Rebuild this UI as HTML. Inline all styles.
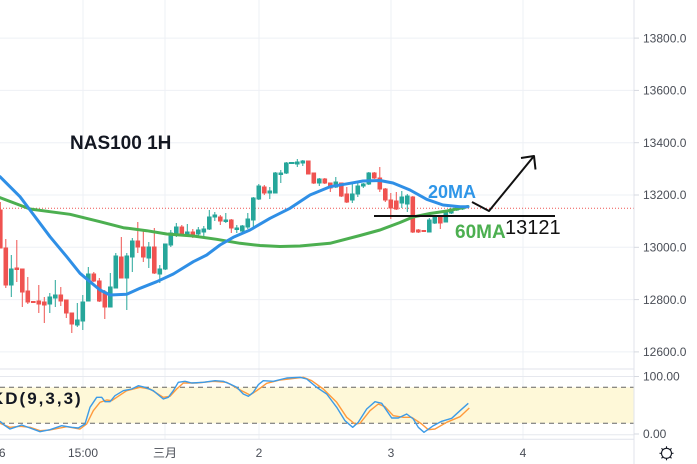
<!DOCTYPE html>
<html><head><meta charset="utf-8"><style>
html,body{margin:0;padding:0;background:#fff;}
svg{display:block;}
text{font-family:"Liberation Sans","Noto Sans CJK SC",sans-serif;}
</style></head><body>
<svg width="697" height="464" viewBox="0 0 697 464" xmlns="http://www.w3.org/2000/svg">
<rect width="697" height="464" fill="#fff"/>
<!-- grid -->
<g stroke="#eef0f5" stroke-width="1">
<line x1="0" y1="38.1" x2="634" y2="38.1"/>
<line x1="0" y1="90.4" x2="634" y2="90.4"/>
<line x1="0" y1="142.7" x2="634" y2="142.7"/>
<line x1="0" y1="195" x2="634" y2="195"/>
<line x1="0" y1="247.3" x2="634" y2="247.3"/>
<line x1="0" y1="299.6" x2="634" y2="299.6"/>
<line x1="0" y1="351.9" x2="634" y2="351.9"/>
<line x1="83" y1="0" x2="83" y2="439"/>
<line x1="165" y1="0" x2="165" y2="439"/>
<line x1="259" y1="0" x2="259" y2="439"/>
<line x1="391" y1="0" x2="391" y2="439"/>
<line x1="523" y1="0" x2="523" y2="439"/>
</g>
<!-- KD pane -->
<rect x="0" y="387.3" width="634" height="36" fill="#fef8d8"/>
<g stroke="#e6e8ee" stroke-width="1">
<line x1="0" y1="376.5" x2="634" y2="376.5"/>
<line x1="0" y1="434.7" x2="634" y2="434.7"/>
</g>
<line x1="0" y1="369" x2="697" y2="369" stroke="#e0e3eb" stroke-width="1"/>
<line x1="0" y1="439.3" x2="697" y2="439.3" stroke="#e0e3eb" stroke-width="1"/>
<g stroke="#666" stroke-width="1" stroke-dasharray="5 4">
<line x1="0" y1="387.3" x2="634" y2="387.3"/>
<line x1="0" y1="423.3" x2="634" y2="423.3"/>
</g>
<!-- price dotted line -->
<line x1="0" y1="208.3" x2="634" y2="208.3" stroke="#ef5350" stroke-width="1" stroke-dasharray="1 2"/>
<!-- candles -->
<g stroke="#ef5350" stroke-width="1" fill="#ef5350">
<line x1="0.3" y1="202" x2="0.3" y2="248"/><rect x="-1.5" y="210" width="3.6" height="38"/>
<line x1="5.8" y1="239" x2="5.8" y2="288"/><rect x="4" y="248" width="3.6" height="37"/>
<line x1="16.8" y1="240" x2="16.8" y2="282"/><rect x="15" y="268" width="3.6" height="1.5"/>
<line x1="22.3" y1="269" x2="22.3" y2="307"/><rect x="20.5" y="269" width="3.6" height="23"/>
<line x1="27.8" y1="277" x2="27.8" y2="304"/><rect x="26" y="291" width="3.6" height="11"/>
<rect x="31.5" y="301.5" width="3.6" height="1"/>
<line x1="38.8" y1="285" x2="38.8" y2="313"/><rect x="37" y="301" width="3.6" height="3"/>
<line x1="44.3" y1="297" x2="44.3" y2="323"/><rect x="42.5" y="302" width="3.6" height="3"/>
<line x1="60.8" y1="287" x2="60.8" y2="306"/><rect x="59" y="295" width="3.6" height="6"/>
<line x1="66.3" y1="300" x2="66.3" y2="318"/><rect x="64.5" y="300" width="3.6" height="13"/>
<line x1="71.8" y1="313" x2="71.8" y2="333"/><rect x="70" y="313" width="3.6" height="11"/>
<line x1="93.8" y1="272" x2="93.8" y2="282"/><rect x="92" y="274" width="3.6" height="7"/>
<line x1="99.3" y1="278" x2="99.3" y2="302"/><rect x="97.5" y="281" width="3.6" height="20"/>
<line x1="104.8" y1="290" x2="104.8" y2="319"/><rect x="103" y="292" width="3.6" height="15"/>
<line x1="121.3" y1="237" x2="121.3" y2="278"/><rect x="119.5" y="257" width="3.6" height="21"/>
<line x1="137.8" y1="222" x2="137.8" y2="253"/><rect x="136" y="241" width="3.6" height="6"/>
<line x1="143.3" y1="230" x2="143.3" y2="262"/><rect x="141.5" y="247" width="3.6" height="10"/>
<line x1="154.3" y1="228" x2="154.3" y2="274"/><rect x="152.5" y="247" width="3.6" height="26"/>
<line x1="181.8" y1="225" x2="181.8" y2="236"/><rect x="180" y="227" width="3.6" height="7"/>
<line x1="192.8" y1="229" x2="192.8" y2="238"/><rect x="191" y="232" width="3.6" height="4"/>
<line x1="220.3" y1="215" x2="220.3" y2="225"/><rect x="218.5" y="217" width="3.6" height="4"/>
<line x1="231.3" y1="219" x2="231.3" y2="233"/><rect x="229.5" y="220" width="3.6" height="8"/>
<line x1="264.3" y1="185" x2="264.3" y2="195"/><rect x="262.5" y="187" width="3.6" height="6"/>
<line x1="308.3" y1="161" x2="308.3" y2="174"/><rect x="306.5" y="161" width="3.6" height="13"/>
<line x1="313.8" y1="173" x2="313.8" y2="184"/><rect x="312" y="173" width="3.6" height="10"/>
<line x1="324.8" y1="178" x2="324.8" y2="184"/><rect x="323" y="179" width="3.6" height="4"/>
<line x1="330.3" y1="183" x2="330.3" y2="192"/><rect x="328.5" y="183" width="3.6" height="5"/>
<line x1="341.3" y1="183" x2="341.3" y2="197"/><rect x="339.5" y="183" width="3.6" height="13"/>
<line x1="346.8" y1="187" x2="346.8" y2="203"/><rect x="345" y="194" width="3.6" height="8"/>
<line x1="374.3" y1="172" x2="374.3" y2="179"/><rect x="372.5" y="173" width="3.6" height="5"/>
<line x1="379.8" y1="167" x2="379.8" y2="192"/><rect x="378" y="178" width="3.6" height="11"/>
<line x1="385.3" y1="188" x2="385.3" y2="202"/><rect x="383.5" y="189" width="3.6" height="11"/>
<line x1="390.8" y1="193" x2="390.8" y2="219"/><rect x="389" y="200" width="3.6" height="8"/>
<line x1="396.3" y1="192" x2="396.3" y2="210"/><rect x="394.5" y="201" width="3.6" height="8"/>
<line x1="412.8" y1="196" x2="412.8" y2="233"/><rect x="411" y="197" width="3.6" height="35"/>
<line x1="418.3" y1="229" x2="418.3" y2="233"/><rect x="416.5" y="230" width="3.6" height="2"/>
<rect x="422" y="230.5" width="3.6" height="1"/>
<line x1="440.3" y1="216" x2="440.3" y2="229"/><rect x="438.5" y="217" width="3.6" height="6"/>
</g>
<g stroke="#26a69a" stroke-width="1" fill="#26a69a">
<line x1="11.3" y1="255" x2="11.3" y2="297"/><rect x="9.5" y="269" width="3.6" height="16"/>
<line x1="49.8" y1="293" x2="49.8" y2="313"/><rect x="48" y="297" width="3.6" height="7"/>
<line x1="55.3" y1="280" x2="55.3" y2="307"/><rect x="53.5" y="295" width="3.6" height="3"/>
<line x1="77.3" y1="303" x2="77.3" y2="327"/><rect x="75.5" y="320" width="3.6" height="5"/>
<line x1="82.8" y1="295" x2="82.8" y2="330"/><rect x="81" y="302" width="3.6" height="19"/>
<line x1="88.3" y1="267" x2="88.3" y2="301"/><rect x="86.5" y="274" width="3.6" height="27"/>
<line x1="110.3" y1="273" x2="110.3" y2="307"/><rect x="108.5" y="287" width="3.6" height="20"/>
<line x1="115.8" y1="253" x2="115.8" y2="288"/><rect x="114" y="256" width="3.6" height="32"/>
<line x1="126.8" y1="253" x2="126.8" y2="310"/><rect x="125" y="256" width="3.6" height="22"/>
<line x1="132.3" y1="238" x2="132.3" y2="272"/><rect x="130.5" y="241" width="3.6" height="16"/>
<line x1="148.8" y1="242" x2="148.8" y2="268"/><rect x="147" y="247" width="3.6" height="11"/>
<line x1="159.8" y1="265" x2="159.8" y2="283"/><rect x="158" y="269" width="3.6" height="5"/>
<line x1="165.3" y1="244" x2="165.3" y2="270"/><rect x="163.5" y="244" width="3.6" height="25"/>
<line x1="170.8" y1="230" x2="170.8" y2="247"/><rect x="169" y="233" width="3.6" height="12"/>
<line x1="176.3" y1="223" x2="176.3" y2="237"/><rect x="174.5" y="227" width="3.6" height="6"/>
<line x1="187.3" y1="224" x2="187.3" y2="237"/><rect x="185.5" y="232" width="3.6" height="2"/>
<line x1="198.3" y1="227" x2="198.3" y2="236"/><rect x="196.5" y="230" width="3.6" height="4"/>
<line x1="203.8" y1="226" x2="203.8" y2="237"/><rect x="202" y="229" width="3.6" height="3"/>
<line x1="209.3" y1="210" x2="209.3" y2="230"/><rect x="207.5" y="217" width="3.6" height="12"/>
<line x1="214.8" y1="212" x2="214.8" y2="221"/><rect x="213" y="215" width="3.6" height="2"/>
<line x1="225.8" y1="213" x2="225.8" y2="223"/><rect x="224" y="220" width="3.6" height="1.5"/>
<line x1="236.8" y1="225" x2="236.8" y2="233"/><rect x="235" y="228" width="3.6" height="1.5"/>
<line x1="242.3" y1="225" x2="242.3" y2="234"/><rect x="240.5" y="226" width="3.6" height="5"/>
<line x1="247.8" y1="213" x2="247.8" y2="229"/><rect x="246" y="219" width="3.6" height="8"/>
<line x1="253.3" y1="197" x2="253.3" y2="227"/><rect x="251.5" y="198" width="3.6" height="22"/>
<line x1="258.8" y1="184" x2="258.8" y2="200"/><rect x="257" y="186" width="3.6" height="13"/>
<line x1="269.8" y1="187" x2="269.8" y2="199"/><rect x="268" y="191" width="3.6" height="2"/>
<line x1="275.3" y1="172" x2="275.3" y2="193"/><rect x="273.5" y="173" width="3.6" height="20"/>
<line x1="280.8" y1="170" x2="280.8" y2="183"/><rect x="279" y="173" width="3.6" height="1.5"/>
<line x1="286.3" y1="162" x2="286.3" y2="174"/><rect x="284.5" y="163" width="3.6" height="10"/>
<rect x="289.5" y="162.5" width="4.6" height="1"/>
<line x1="297.3" y1="159" x2="297.3" y2="167"/><rect x="295.5" y="162" width="3.6" height="2"/>
<line x1="302.8" y1="160" x2="302.8" y2="166"/><rect x="301" y="161" width="3.6" height="2"/>
<line x1="319.3" y1="178" x2="319.3" y2="186"/><rect x="317.5" y="179" width="3.6" height="4"/>
<line x1="335.8" y1="177" x2="335.8" y2="188"/><rect x="334" y="182" width="3.6" height="5"/>
<line x1="352.3" y1="183" x2="352.3" y2="203"/><rect x="350.5" y="194" width="3.6" height="6"/>
<line x1="357.8" y1="182" x2="357.8" y2="197"/><rect x="356" y="186" width="3.6" height="8"/>
<line x1="363.3" y1="183" x2="363.3" y2="188"/><rect x="361.5" y="184" width="3.6" height="2"/>
<line x1="368.8" y1="172" x2="368.8" y2="185"/><rect x="367" y="173" width="3.6" height="11"/>
<line x1="401.8" y1="191" x2="401.8" y2="208"/><rect x="400" y="197" width="3.6" height="6"/>
<line x1="407.3" y1="194" x2="407.3" y2="212"/><rect x="405.5" y="196" width="3.6" height="8"/>
<line x1="429.3" y1="218" x2="429.3" y2="232"/><rect x="427.5" y="220" width="3.6" height="12"/>
<line x1="434.8" y1="217" x2="434.8" y2="224"/><rect x="433" y="217" width="3.6" height="6"/>
<line x1="445.8" y1="211" x2="445.8" y2="222"/><rect x="444" y="212" width="3.6" height="10"/>
<line x1="451.3" y1="209" x2="451.3" y2="214"/><rect x="449.5" y="209" width="3.6" height="4"/>
<line x1="456.8" y1="208" x2="456.8" y2="211"/><rect x="455" y="208" width="3.6" height="2"/>
<line x1="462.3" y1="206" x2="462.3" y2="210"/><rect x="460.5" y="207" width="3.6" height="2"/>
</g>
<!-- 60MA -->
<polyline fill="none" stroke="#4caf50" stroke-width="3" stroke-linejoin="round" stroke-linecap="round"
points="0,197.7 30,209 50,211.7 70,214.3 100,221.7 123.3,227.7 146.7,230.7 166.7,234 193.3,236 216.7,239.3 240,243.3 260,245.5 280,246.5 300,246 330,243.3 360,235.5 380,230 400,222.5 413,217 430,213.5 447,211 468,206.5"/>
<!-- 20MA -->
<polyline fill="none" stroke="#2f8fe6" stroke-width="3" stroke-linejoin="round" stroke-linecap="round"
points="0,176.7 20,196.7 30,210 50,236.7 66.7,256.7 80,273.3 90,281.7 100,290 110,295 126.7,294.3 140,288.3 156.7,281.7 173.3,274 193.3,261.7 206.7,255 220,245 233.3,237.3 250,230 270,218.3 290,208.3 310,195 330,186.7 350,183.3 363,181 380,180.5 393,183 410,190 426.7,199.3 443,205 460,206.7 468,206.7"/>
<!-- annotations -->
<line x1="374" y1="216" x2="555" y2="216" stroke="#111" stroke-width="2"/>
<polyline fill="none" stroke="#111" stroke-width="2" stroke-linejoin="round" points="472,202 489,211 534,156"/>
<polyline fill="none" stroke="#111" stroke-width="2" stroke-linejoin="round" points="521,158 534,156 535.5,169.5"/>
<text x="70" y="149" font-size="19" font-weight="bold" fill="#131722">NAS100 1H</text>
<text x="428" y="198" font-size="18" font-weight="bold" fill="#2f96e8">20MA</text>
<text x="455" y="238" font-size="19" font-weight="bold" fill="#4caf50">60MA</text>
<text x="505" y="234" font-size="20" fill="#111">13121</text>
<!-- KD lines -->
<polyline fill="none" stroke="#ff9a3c" stroke-width="1.4" stroke-linejoin="round"
points="0,423.3 10,427.3 20,426.3 30,427.3 40,430.7 50,430 66.7,426.7 80,429 86.7,424 93.3,410.7 100,402.3 106.7,400 111.7,400.7 116.7,397.3 126.7,390.7 140,387.3 150,389 163.3,397.3 170,396.3 176.7,389 183.3,383 196.7,383 213.3,381.3 226.7,382.3 238.3,389 250,395 256.7,390.7 266.7,383.3 280,380 303.3,377.3 311.7,380.7 323.3,389 336.7,402.3 346.7,417.3 355,424 360,423.3 370,410.7 378.3,404 385,406.7 393.3,415.7 403.3,417.3 411.7,417.3 421.7,424 428.3,429.7 435,429 446.7,422.3 460,416.7 469.3,408"/>
<polyline fill="none" stroke="#3d9be6" stroke-width="1.4" stroke-linejoin="round"
points="0,421.3 5,425.7 10,429 15,427.3 21.7,425 30,428 40,431.7 50,429.7 61.7,425.7 71.7,427.3 78.3,428 85,424 90,407.3 96.7,397.3 101.7,397.3 105,401.7 110,401.7 115,395.7 123.3,390.7 131.7,389 138.3,385.7 145,387.3 153.3,390.7 163.3,399 168.3,397.3 173.3,390.7 178.3,382.3 185,381.3 191.7,383 203.3,382.3 215,380.7 223.3,381.3 230,384 236.7,387.3 243.3,394 248.3,396.3 253.3,392.3 258.3,384.7 263.3,380.7 273.3,381.3 286.7,378 300,377.3 306.7,379 316.7,387.3 326.7,394 336.7,407.3 345,420.7 352.7,427.3 358.3,422.3 366.7,409 375,401.7 381.7,403.3 391.7,418 398.3,418 406.7,414 413.3,419 418.3,427.3 424,432.3 433.3,425.7 441.7,421.3 451.7,418.3 460,410.7 468.3,403.3"/>
<text x="-9" y="404" font-size="17" font-weight="bold" letter-spacing="2" fill="#131722">KD(9,3,3)</text>
<!-- right axis -->
<rect x="634.5" y="0" width="62.5" height="464" fill="#fff"/>
<line x1="634" y1="0" x2="634" y2="464" stroke="#e0e3eb" stroke-width="1"/>
<g stroke="#d6d9e0" stroke-width="1">
<line x1="634" y1="38.1" x2="639" y2="38.1"/>
<line x1="634" y1="90.4" x2="639" y2="90.4"/>
<line x1="634" y1="142.7" x2="639" y2="142.7"/>
<line x1="634" y1="195" x2="639" y2="195"/>
<line x1="634" y1="247.3" x2="639" y2="247.3"/>
<line x1="634" y1="299.6" x2="639" y2="299.6"/>
<line x1="634" y1="351.9" x2="639" y2="351.9"/>
<line x1="634" y1="376.5" x2="639" y2="376.5"/>
<line x1="634" y1="434" x2="639" y2="434"/>
</g>
<g font-size="12" fill="#4a4e57">
<text x="643" y="42.3">13800.0</text>
<text x="643" y="94.6">13600.0</text>
<text x="643" y="146.9">13400.0</text>
<text x="643" y="199.2">13200.0</text>
<text x="643" y="251.5">13000.0</text>
<text x="643" y="303.8">12800.0</text>
<text x="643" y="356.1">12600.0</text>
<text x="643" y="380.7">100.00</text>
<text x="643" y="438.2">0.00</text>
</g>
<!-- time axis -->
<g font-size="12" fill="#4a4e57" text-anchor="middle">
<text x="5.5" y="457" text-anchor="end">26</text>
<text x="83" y="457">15:00</text>
<text x="165" y="457">三月</text>
<text x="259" y="457">2</text>
<text x="391" y="457">3</text>
<text x="523" y="457">4</text>
</g>
<!-- gear icon -->
<g stroke="#131722" stroke-width="1.1" fill="none">
<circle cx="666.5" cy="453.3" r="5"/>
<line x1="666.5" y1="446.3" x2="666.5" y2="448.3"/>
<line x1="666.5" y1="458.3" x2="666.5" y2="460.3"/>
<line x1="659.5" y1="453.3" x2="661.5" y2="453.3"/>
<line x1="671.5" y1="453.3" x2="673.5" y2="453.3"/>
<line x1="661.5" y1="448.3" x2="662.8" y2="449.6"/>
<line x1="671.5" y1="448.3" x2="670.2" y2="449.6"/>
<line x1="661.5" y1="458.3" x2="662.8" y2="457"/>
<line x1="671.5" y1="458.3" x2="670.2" y2="457"/>
</g>
</svg>
</body></html>
